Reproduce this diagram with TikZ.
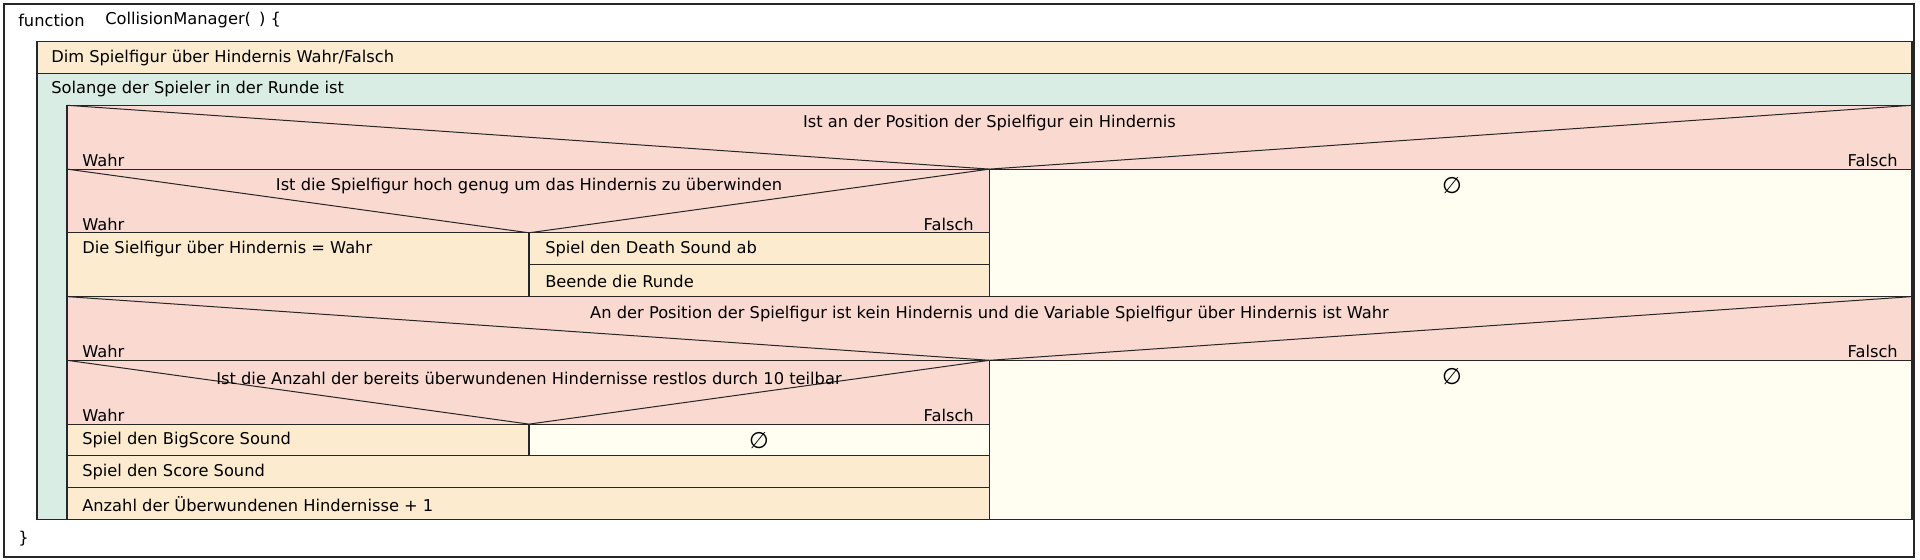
\documentclass[tikz,border=0pt]{standalone}
\usepackage{fontspec}
\setmainfont{DejaVu Sans}
\usepackage{tikz}
\definecolor{peach}{RGB}{253,235,208}
\definecolor{mint}{RGB}{218,237,228}
\definecolor{rose}{RGB}{250,217,209}
\definecolor{cream}{RGB}{255,254,240}

\begin{document}
\begin{tikzpicture}[x=0.75pt, y=-0.75pt, font=\fontsize{12.2}{14}\selectfont,
    block/.style={draw=black!85, line width=0.85pt},
    anweisung/.style={block, fill=peach},
    schleife/.style={block, fill=mint},
    bedingung/.style={block, fill=rose},
    leer/.style={block, fill=cream},
    diag/.style={draw=black!85, line width=0.75pt},
    txt/.style={anchor=west, inner sep=0pt},
    rtxt/.style={anchor=east, inner sep=0pt},
    titel/.style={anchor=center, inner sep=0pt},
    nichts/.style={titel, font=\fontsize{17}{18}\selectfont}]

    % Rahmen
    \useasboundingbox (0,0) rectangle (1920,560);
    \draw[block, fill=white] (4,4) rectangle (1914,557);
    \node[txt] (func) at (18,20) {function};
    \node[txt] (name) at (105,20) {CollisionManager(\hspace{0.5em}) \{};
    \node[txt] (ende) at (18,539) {\}};

    % Variable und Schleife
    \draw[anweisung] (37,41.6) rectangle (1912,73.5);
    \node[txt] (dim) at (51,57.6) {Dim Spielfigur über Hindernis Wahr/Falsch};
    \draw[schleife] (37,73.5) rectangle (1912,519.7);
    \node[txt] (solange) at (51,89.4) {Solange der Spieler in der Runde ist};

    % Erste Bedingung
    \draw[bedingung] (67,105.3) rectangle (1912,169.1);
    \draw[diag] (67,105.3) -- (989.5,169.1) -- (1912,105.3);
    \node[titel] (frage1) at (989.5,123) {Ist an der Position der Spielfigur ein Hindernis};
    \node[txt] (wahr1) at (82,160) {Wahr};
    \node[rtxt] (falsch1) at (1898,160) {Falsch};

    \draw[bedingung] (67,169.1) rectangle (989.5,232.8);
    \draw[diag] (67,169.1) -- (529,232.8) -- (989.5,169.1);
    \node[titel] (frage2) at (529,186.5) {Ist die Spielfigur hoch genug um das Hindernis zu überwinden};
    \node[txt] (wahr2) at (82,224) {Wahr};
    \node[rtxt] (falsch2) at (974,224) {Falsch};
    \draw[leer] (989.5,169.1) rectangle (1912,296.6);
    \node[nichts] (leer1) at (1452,186) {∅};

    \draw[anweisung] (67,232.8) rectangle (529,296.6);
    \node[txt] (ueber) at (82,249.5) {Die Sielfigur über Hindernis = Wahr};
    \draw[anweisung] (529,232.8) rectangle (989.5,264.7);
    \node[txt] (death) at (545,249.5) {Spiel den Death Sound ab};
    \draw[anweisung] (529,264.7) rectangle (989.5,296.6);
    \node[txt] (beende) at (545,281.4) {Beende die Runde};

    % Zweite Bedingung
    \draw[bedingung] (67,296.6) rectangle (1912,360.3);
    \draw[diag] (67,296.6) -- (989.5,360.3) -- (1912,296.6);
    \node[titel] (frage3) at (989.5,314) {An der Position der Spielfigur ist kein Hindernis und die Variable Spielfigur über Hindernis ist Wahr};
    \node[txt] (wahr3) at (82,351) {Wahr};
    \node[rtxt] (falsch3) at (1898,351) {Falsch};

    \draw[bedingung] (67,360.3) rectangle (989.5,424.1);
    \draw[diag] (67,360.3) -- (529,424.1) -- (989.5,360.3);
    \node[titel] (frage4) at (529,378) {Ist die Anzahl der bereits überwundenen Hindernisse restlos durch 10 teilbar};
    \node[txt] (wahr4) at (82,415) {Wahr};
    \node[rtxt] (falsch4) at (974,415) {Falsch};
    \draw[leer] (989.5,360.3) rectangle (1912,519.7);
    \node[nichts] (leer2) at (1452,377) {∅};

    \draw[anweisung] (67,424.1) rectangle (529,455.9);
    \node[txt] (bigscore) at (82,440.5) {Spiel den BigScore Sound};
    \draw[leer] (529,424.1) rectangle (989.5,455.9);
    \node[nichts] (leer3) at (759,441) {∅};
    \draw[anweisung] (67,455.9) rectangle (989.5,487.8);
    \node[txt] (score) at (82,472.4) {Spiel den Score Sound};
    \draw[anweisung] (67,487.8) rectangle (989.5,519.7);
    \node[txt] (anzahl) at (82,504.3) {Anzahl der Überwundenen Hindernisse + 1};
\end{tikzpicture}
\end{document}
